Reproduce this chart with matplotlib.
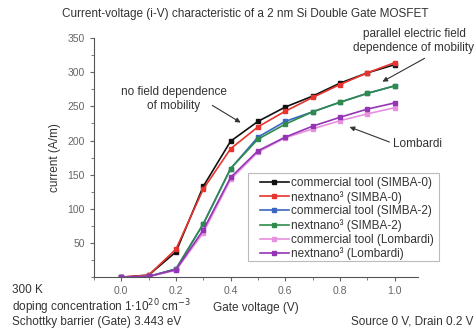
import matplotlib.pyplot as plt
from matplotlib.patches import Rectangle
from matplotlib.ticker import MultipleLocator

plt.rcParams['font.family'] = ['Liberation Sans', 'DejaVu Sans']

# gate voltage (V)
vg = [0.0, 0.1, 0.2, 0.3, 0.4, 0.5, 0.6, 0.7, 0.8, 0.9, 1.0]

# current (A/m)
comm_simba0 = [0, 3, 37, 133, 199, 228, 249, 265, 284, 299, 311]
nn_simba0 = [0, 3, 41, 129, 188, 220, 243, 263, 282, 299, 314]
comm_simba2 = [0, 1, 12, 78, 159, 205, 228, 242, 256, 269, 280]
nn_simba2 = [0, 1, 12, 78, 159, 202, 224, 242, 256, 269, 280]
comm_lomb = [0, 1, 10, 65, 143, 183, 204, 217, 229, 239, 248]
nn_lomb = [0, 1, 11, 69, 146, 185, 205, 221, 234, 246, 255]

series = [
    (comm_simba0, '#111111', 'commercial tool (SIMBA-0)'),
    (nn_simba0, '#e8332e', 'nextnano³ (SIMBA-0)'),
    (comm_simba2, '#3a66c4', 'commercial tool (SIMBA-2)'),
    (nn_simba2, '#2e8b4a', 'nextnano³ (SIMBA-2)'),
    (comm_lomb, '#e890e0', 'commercial tool (Lombardi)'),
    (nn_lomb, '#9435b5', 'nextnano³ (Lombardi)'),
]

W, H = 477, 328
fs = 8.5

def fx(px):
    return px / W

def fy(py):
    return 1 - py / H

fig = plt.figure(figsize=(4.77, 3.28), dpi=100)
ax = fig.add_axes([0.197, 0.155, 0.679, 0.729])

for y, c, lab in series:
    ax.plot(vg, y, '-s', color=c, lw=1.2, ms=3.5, label=lab)

ax.set_xlim(-0.1, 1.085)
ax.set_ylim(0, 350)
ax.xaxis.set_major_locator(MultipleLocator(0.2))
ax.xaxis.set_minor_locator(MultipleLocator(0.1))
ax.yaxis.set_minor_locator(MultipleLocator(25))
ax.set_yticks([50, 100, 150, 200, 250, 300, 350])
ax.tick_params(labelsize=7.5, colors='#666666', length=3, width=0.8)
ax.tick_params(which='minor', length=2, width=0.6, colors='#666666')
ax.spines['top'].set_visible(False)
ax.spines['right'].set_visible(False)
ax.spines['left'].set_color('#555555')
ax.spines['bottom'].set_color('#555555')
ax.set_xticklabels(['%.1f' % t for t in ax.get_xticks()])
ax.set_ylabel('current (A/m)', fontsize=fs, color='#333333', labelpad=5)
ax.set_xlabel('Gate voltage (V)', fontsize=fs, color='#333333', labelpad=4)

# legend box drawn by hand, it has more room on the left than on top
box = Rectangle((fx(248), fy(261)), fx(439) - fx(248), fy(173) - fy(261),
                transform=fig.transFigure, facecolor='white',
                edgecolor='#bbbbbb', lw=0.8, zorder=4.5, clip_on=False)
ax.add_patch(box)
leg = ax.legend(loc='upper left', bbox_to_anchor=(fx(260), fy(177)),
                bbox_transform=fig.transFigure, fontsize=fs, frameon=False,
                handlelength=2.45, handletextpad=0.2, labelspacing=0.15,
                borderpad=0, borderaxespad=0)
leg.set_zorder(6)
for t in leg.get_texts():
    t.set_color('#333333')

fig.text(fx(245), fy(14),
         'Current-voltage (i-V) characteristic of a 2 nm Si Double Gate MOSFET',
         ha='center', va='center', fontsize=fs, color='#333333')

# arrows (tail, head) in pixels from the top-left
arrowprops = dict(arrowstyle='-|>', color='#333333', lw=0.8, mutation_scale=7)
ann_pts = [
    ((210, 104), (243, 124)),
    ((427, 57), (380, 83)),
    ((392, 143), (347, 126)),
]
for (x0, y0), (x1, y1) in ann_pts:
    fig.add_artist(plt.Annotation('', xy=(fx(x1), fy(y1)),
                                  xytext=(fx(x0), fy(y0)),
                                  xycoords='figure fraction',
                                  textcoords='figure fraction',
                                  arrowprops=arrowprops))

fig.text(fx(174), fy(99), 'no field dependence\nof mobility', ha='center',
         va='center', fontsize=fs, color='#333333', linespacing=1.25)
fig.text(fx(414), fy(41), 'parallel electric field\ndependence of mobility',
         ha='center', va='center', fontsize=fs, color='#333333', linespacing=1.25)
fig.text(fx(418), fy(144), 'Lombardi', ha='center', va='center',
         fontsize=fs, color='#333333')

fig.text(fx(12), fy(290), '300 K', ha='left', va='center', fontsize=fs,
         color='#333333')
fig.text(fx(12), fy(307), r'doping concentration 1$\cdot$10$^{20}$ cm$^{-3}$',
         ha='left', va='center', fontsize=fs, color='#333333')
fig.text(fx(12), fy(322), 'Schottky barrier (Gate) 3.443 eV', ha='left',
         va='center', fontsize=fs, color='#333333')
fig.text(fx(474), fy(322), 'Source 0 V, Drain 0.2 V', ha='right',
         va='center', fontsize=fs, color='#333333')

fig.savefig('out.png', dpi=100)
